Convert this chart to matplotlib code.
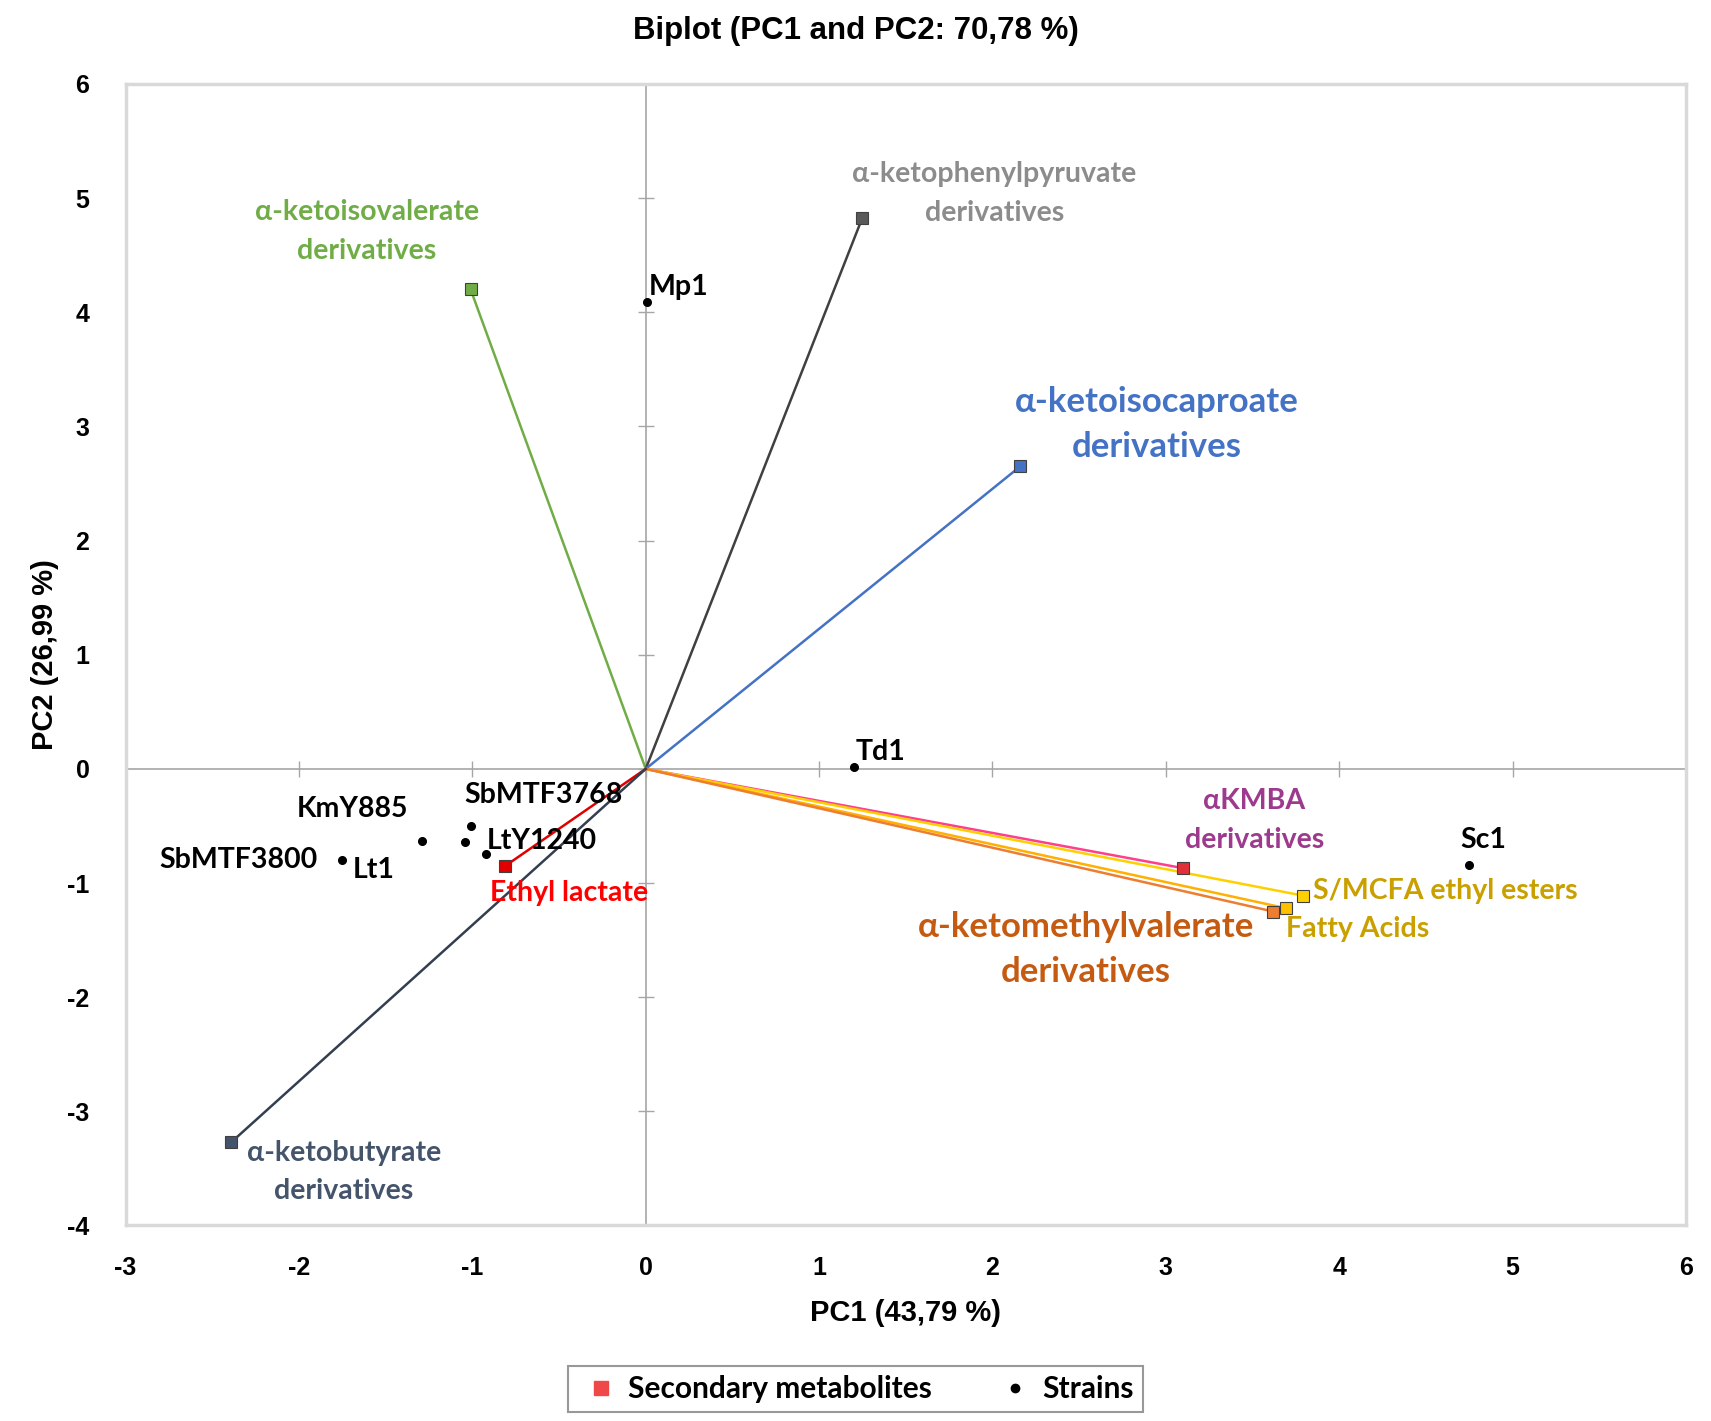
import matplotlib
matplotlib.use("Agg")
import matplotlib.pyplot as plt
from matplotlib.lines import Line2D

plt.rcParams["axes.unicode_minus"] = False

# --- data ---------------------------------------------------------------
strain_names = ["Mp1", "Td1", "Sc1", "SbMTF3768", "KmY885", "SbMTF3800", "Lt1", "LtY1240"]
strain_pc1 = [0.01, 1.20, 4.75, -1.01, -1.29, -1.04, -1.75, -0.92]
strain_pc2 = [4.09, 0.02, -0.84, -0.50, -0.63, -0.64, -0.80, -0.75]
# label anchor positions (data units)
strain_lab_x = [0.02, 1.21, 4.83, -0.59, -1.69, -2.35, -1.57, -0.60]
strain_lab_y = [4.22, 0.15, -0.62, -0.23, -0.35, -0.80, -0.89, -0.63]
strain_lab_ha = ["left", "left", "center", "center", "center", "center", "center", "center"]

met_names = [
    "α-ketoisovalerate\nderivatives",
    "α-ketophenylpyruvate\nderivatives",
    "α-ketoisocaproate\nderivatives",
    "αKMBA\nderivatives",
    "S/MCFA ethyl esters",
    "Fatty Acids",
    "α-ketomethylvalerate\nderivatives",
    "Ethyl lactate",
    "α-ketobutyrate\nderivatives",
]
met_pc1 = [-1.01, 1.25, 2.16, 3.10, 3.79, 3.69, 3.62, -0.81, -2.39]
met_pc2 = [4.20, 4.83, 2.65, -0.87, -1.11, -1.22, -1.25, -0.85, -3.27]
met_lab_x = [-1.61, 2.01, 2.95, 3.51, 3.85, 3.69, 2.54, -0.44, -1.74]
met_lab_y = [4.71, 5.04, 3.02, -0.45, -1.07, -1.40, -1.58, -1.09, -3.53]
met_lab_ha = ["center", "center", "center", "center", "left", "left", "center", "center", "center"]
met_lab_size = [20.5, 20.5, 25, 20.5, 20.5, 20.5, 25, 20.5, 20.5]
met_lab_spacing = [1.6, 1.6, 1.5, 1.6, 1.6, 1.6, 1.5, 1.6, 1.6]
met_line_col = ["#70AD47", "#404040", "#4472C4", "#FF3F8C", "#FFD000", "#FFB000",
                "#ED7D31", "#E00000", "#333F50"]
met_marker_col = ["#70AD47", "#595959", "#4472C4", "#E0303A", "#FFD000", "#FFC000",
                  "#ED7D31", "#E00000", "#44546A"]
met_text_col = ["#70AD47", "#8C8C8C", "#4472C4", "#9E3A8E", "#C9A000", "#C9A000",
                "#C55A11", "#FF0000", "#44546A"]

x_ticks = [-3, -2, -1, 0, 1, 2, 3, 4, 5, 6]
y_ticks = [-4, -3, -2, -1, 0, 1, 2, 3, 4, 5, 6]

LABEL_FONT = ["Lato", "DejaVu Sans"]
AXIS_FONT = ["Liberation Sans", "DejaVu Sans"]

fig = plt.figure(figsize=(17.11, 14.21), dpi=100)
ax = fig.add_axes([0.0734, 0.1376, 0.9120, 0.8033])

ax.set_xlim(x_ticks[0], x_ticks[-1])
ax.set_ylim(y_ticks[0], y_ticks[-1])
for s in ax.spines.values():
    s.set_color("#D9D9D9")
    s.set_linewidth(2.5)

# zero axes with small ticks
ax.axhline(0, color="#A6A6A6", lw=1.2, zorder=1)
ax.axvline(0, color="#A6A6A6", lw=1.2, zorder=1)
ax.plot([0] * len(y_ticks), y_ticks, marker="_", ms=12, color="#A6A6A6", ls="none", zorder=1)
ax.plot(x_ticks, [0] * len(x_ticks), marker="|", ms=12, color="#A6A6A6", ls="none", zorder=1)

ax.set_xticks(x_ticks)
ax.set_yticks(y_ticks)
ax.tick_params(length=0, labelsize=18)
ax.tick_params(axis="x", pad=22)
ax.tick_params(axis="y", pad=26)
for lab in ax.get_xticklabels() + ax.get_yticklabels():
    lab.set_fontweight("bold")
    lab.set_family(AXIS_FONT)

# vectors
for i in range(len(met_names)):
    ax.plot([0, met_pc1[i]], [0, met_pc2[i]], color=met_line_col[i], lw=1.8, zorder=2)
    ax.plot(met_pc1[i], met_pc2[i], marker="s", ms=9, color=met_marker_col[i],
            mec="#404040", mew=0.8, zorder=3)
    ax.text(met_lab_x[i], met_lab_y[i], met_names[i], color=met_text_col[i],
            fontsize=met_lab_size[i], fontweight="bold", family=LABEL_FONT,
            ha=met_lab_ha[i], va="center", linespacing=met_lab_spacing[i], zorder=4)

# strains
ax.plot(strain_pc1, strain_pc2, "o", color="black", ms=5.5, ls="none", zorder=5)
for i in range(len(strain_names)):
    ax.text(strain_lab_x[i], strain_lab_y[i], strain_names[i], color="black",
            fontsize=20.5, fontweight="bold", family=LABEL_FONT,
            ha=strain_lab_ha[i], va="center", zorder=6)

ax.set_xlabel("PC1 (43,79 %)", fontsize=21, fontweight="bold", family=AXIS_FONT, labelpad=14)
ax.set_ylabel("PC2 (26,99 %)", fontsize=21, fontweight="bold", family=AXIS_FONT, labelpad=6)
fig.text(0.5, 0.978, "Biplot (PC1 and PC2: 70,78 %)", ha="center", va="center",
         fontsize=22.5, fontweight="bold", family=AXIS_FONT)

handles = [
    Line2D([], [], marker="s", ls="none", color="#F04848", ms=10),
    Line2D([], [], marker="o", ls="none", color="black", ms=6),
]
leg = fig.legend(handles, ["Secondary metabolites", "Strains"], loc="center",
                 bbox_to_anchor=(0.5, 0.0225), ncol=2, frameon=True, fancybox=False,
                 prop={"family": LABEL_FONT, "weight": "bold", "size": 21.5},
                 handletextpad=0.1, columnspacing=2.0, borderpad=0.3, handlelength=1.6)
leg.get_frame().set_edgecolor("#7F7F7F")
leg.get_frame().set_linewidth(1.5)

fig.savefig("out.png", dpi=100)
